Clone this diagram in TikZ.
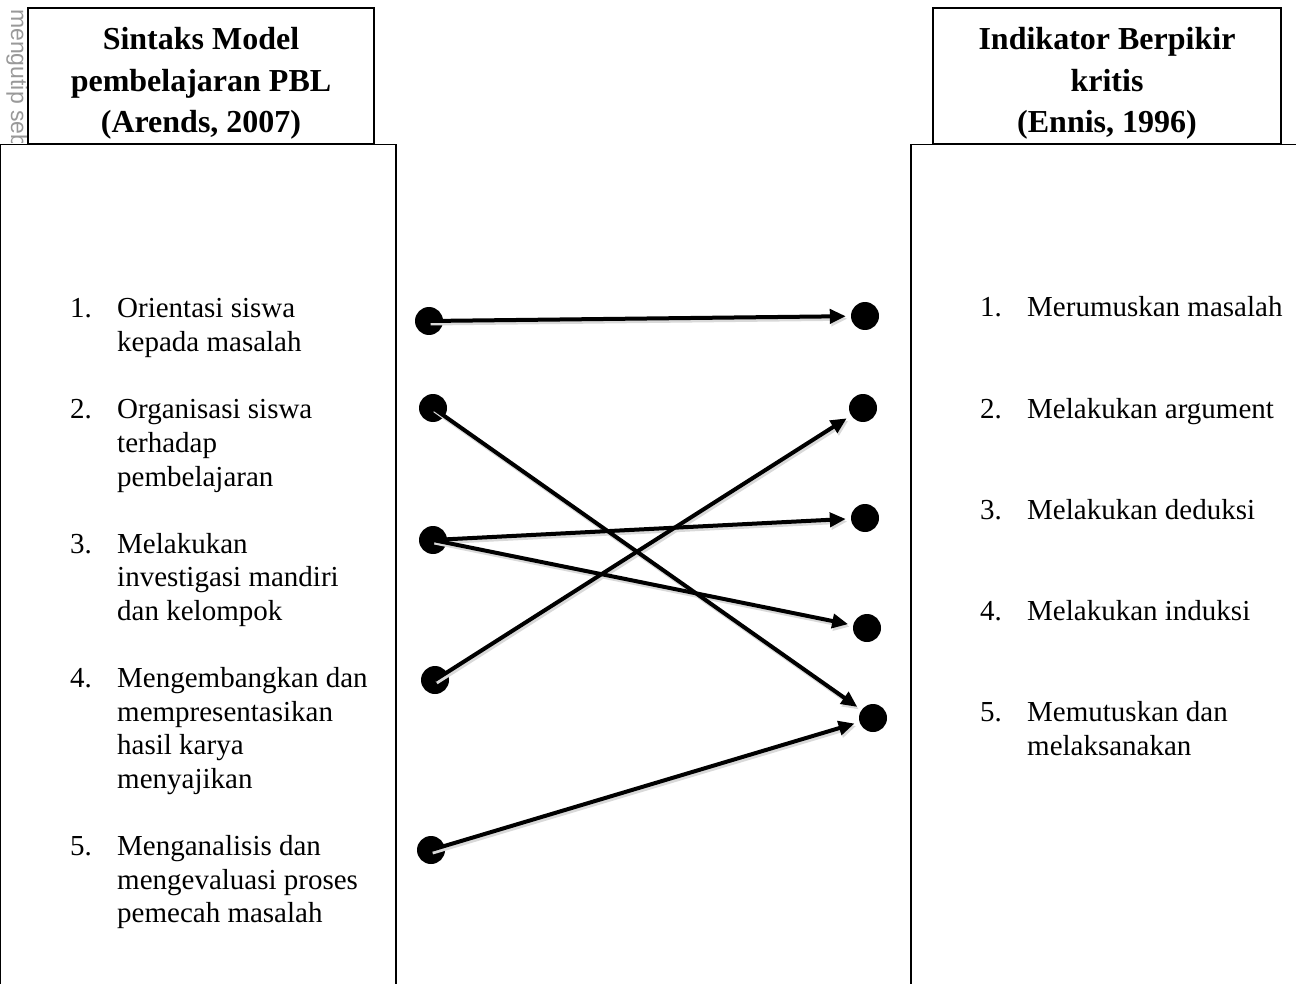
\documentclass[tikz,border=0pt]{standalone}
\usepackage{fontspec}
\setmainfont{Liberation Serif}
\newfontfamily\wmfont{Liberation Sans}
\usetikzlibrary{arrows.meta}
\begin{document}
\begin{tikzpicture}[x=1pt,y=-1pt,
  boxline/.style={draw=black, line width=1.3pt},
  headbox/.style={boxline, rectangle, fill=white, inner sep=0pt, minimum height=136pt},
  headtext/.style={font=\fontsize{32}{41.5}\selectfont\bfseries, anchor=base, inner sep=0pt},
  bodytext/.style={font=\fontsize{29}{33.6}\selectfont, anchor=base west, inner sep=0pt},
  dot/.style={circle, fill=black, minimum size=28pt, inner sep=0pt},
  link/.style={line width=4pt, -{Triangle[length=16pt,width=14pt]}, shorten >=5pt},
  linkshadow/.style={link, draw=black!15, transform canvas={shift={(1.5pt,-2.5pt)}}},
]
\useasboundingbox (0,0) rectangle (1296,984);

% watermark
\begin{scope}
  \clip (0,0) rectangle (27,143);
  \node[font=\wmfont\fontsize{23}{23}\selectfont, text=black!40, rotate=-90,
        anchor=base west, inner sep=0pt] (wm) at (11,9) {mengutip sebagian};
\end{scope}

% lower boxes
\draw[boxline] (0.7,990) -- (0.7,144.5) -- (396,144.5) -- (396,990);
\draw[boxline] (911,990) -- (911,144.5) -- (1300,144.5);

% header boxes
\node[headbox, minimum width=346pt] (hl) at (201,76) {};
\node[headbox, minimum width=348pt] (hr) at (1107,76) {};

\foreach \y/\txt [count=\i] in {50/Sintaks Model, 92/pembelajaran PBL, 133/{(Arends, 2007)}}
  \node[headtext] (hlt\i) at (201,\y) {\txt};
\foreach \y/\txt [count=\i] in {50/Indikator Berpikir, 92/kritis, 133/{(Ennis, 1996)}}
  \node[headtext] (hrt\i) at (1107,\y) {\txt};

% left list
\foreach \n/\r in {1/0,2/3,3/7,4/11,5/16}
  \node[bodytext] (ln\n) at (70,{318+\r*33.6}) {\n.};
\foreach \r/\txt in {0/Orientasi siswa, 1/kepada masalah,
    3/Organisasi siswa, 4/terhadap, 5/pembelajaran,
    7/Melakukan, 8/investigasi mandiri, 9/dan kelompok,
    11/Mengembangkan dan, 12/mempresentasikan, 13/hasil karya, 14/menyajikan,
    16/Menganalisis dan, 17/mengevaluasi proses, 18/pemecah masalah}
  \node[bodytext] (lt\r) at (117,{318+\r*33.6}) {\txt};

% right list
\foreach \n/\y/\txt in {1/317/Merumuskan masalah, 2/418/Melakukan argument,
    3/519/Melakukan deduksi, 4/620/Melakukan induksi, 5/721/Memutuskan dan}
  {\node[bodytext] (rn\n) at (980,\y) {\n.};
   \node[bodytext] (rt\n) at (1027,\y) {\txt};}
\node[bodytext] (rt6) at (1027,755) {melaksanakan};

% dots
\node[dot] (L1) at (429,321) {};
\node[dot] (L2) at (433,408) {};
\node[dot] (L3) at (433,540) {};
\node[dot] (L4) at (435,680) {};
\node[dot] (L5) at (431,850) {};
\node[dot] (R1) at (865,316) {};
\node[dot] (R2) at (863,408) {};
\node[dot] (R3) at (865,518) {};
\node[dot] (R4) at (867,628) {};
\node[dot] (R5) at (873,718) {};

% connectors
\foreach \a/\b in {L1/R1, L2/R5, L3/R3, L3/R4, L4/R2, L5/R5}
  \draw[linkshadow] (\a.center) -- (\b);
\foreach \a/\b in {L1/R1, L2/R5, L3/R3, L3/R4, L4/R2, L5/R5}
  \draw[link] (\a.center) -- (\b);
\end{tikzpicture}
\end{document}
